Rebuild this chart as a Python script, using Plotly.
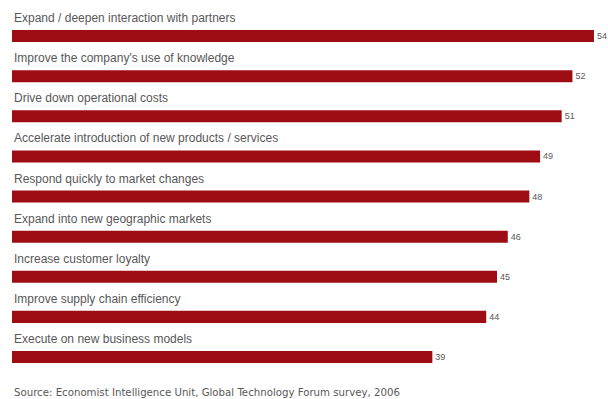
import plotly.graph_objects as go

categories = [
    "Expand / deepen interaction with partners",
    "Improve the company's use of knowledge",
    "Drive down operational costs",
    "Accelerate introduction of new products / services",
    "Respond quickly to market changes",
    "Expand into new geographic markets",
    "Increase customer loyalty",
    "Improve supply chain efficiency",
    "Execute on new business models",
]
values = [54, 52, 51, 49, 48, 46, 45, 44, 39]
source_note = "Source: Economist Intelligence Unit, Global Technology Forum survey, 2006"

BAR_RED = "#9e0c14"
TEXT_GREY = "#585858"
FONT = "Liberation Sans"

fig = go.Figure(
    go.Bar(
        x=values,
        y=categories,
        orientation="h",
        marker=dict(color=BAR_RED, line=dict(width=0)),
        text=[str(v) for v in values],
        textposition="outside",
        textfont=dict(family=FONT, size=9, color=TEXT_GREY),
        constraintext="none",
        cliponaxis=False,
        hoverinfo="skip",
    )
)

# category captions sit above each bar, left-aligned with the bar start
for cat in categories:
    fig.add_annotation(
        x=0, y=cat, xref="x", yref="y",
        text=cat, showarrow=False,
        xanchor="left", yanchor="middle", yshift=18, xshift=0,
        font=dict(family=FONT, size=12, color=TEXT_GREY),
    )

fig.add_annotation(
    x=0, y=0, xref="paper", yref="paper",
    text=source_note, showarrow=False,
    xanchor="left", yanchor="top", yshift=-1,
    font=dict(family="DejaVu Sans", size=10.2, color=TEXT_GREY),
)

fig.update_layout(
    width=608, height=399,
    margin=dict(l=12, r=0, t=15.5, b=15),
    paper_bgcolor="white", plot_bgcolor="white",
    bargap=0.7,
    showlegend=False,
    xaxis=dict(range=[0, 55.3], visible=False, fixedrange=True),
    yaxis=dict(autorange="reversed", visible=False, fixedrange=True),
)

fig.write_html("out.html")
